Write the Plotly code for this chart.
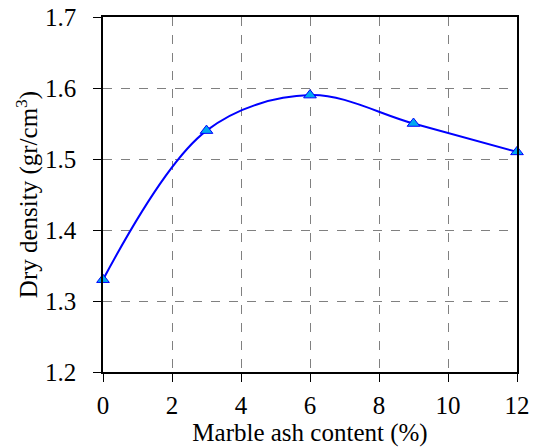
import plotly.graph_objects as go

marble_ash = [0, 3, 6, 9, 12]
dry_density = [1.33, 1.54, 1.59, 1.55, 1.51]
x_ticks = [0, 2, 4, 6, 8, 10, 12]
y_ticks = [1.2, 1.3, 1.4, 1.5, 1.6, 1.7]

fig = go.Figure()
fig.add_trace(go.Scatter(
    x=marble_ash, y=dry_density, mode="lines+markers",
    line=dict(color="#0000ff", width=2, shape="spline", smoothing=1.0),
    marker=dict(symbol="triangle-up", size=11, color="#00a8f0",
                line=dict(color="#0000ff", width=1)),
    showlegend=False, cliponaxis=False))

font = dict(family="Liberation Serif, Times New Roman, serif", size=25, color="black")
axis_common = dict(showline=True, linecolor="black", linewidth=1.5, mirror=True,
                   showgrid=True, gridcolor="#808080", griddash="dash", gridwidth=1,
                   ticks="outside", ticklen=8, tickcolor="black", zeroline=False,
                   tickfont=font, automargin=False)
fig.update_xaxes(range=[0, 12], tickvals=x_ticks, ticktext=[str(v) for v in x_ticks],
                 ticklabelstandoff=2,
                 title=dict(text="Marble ash content (%)", font=font, standoff=2), **axis_common)
fig.update_yaxes(range=[1.2, 1.7], tickvals=y_ticks, ticktext=[f"{v:.1f}" for v in y_ticks],
                 ticklabelstandoff=12,
                 title=dict(text="Dry density (gr/cm<sup>3</sup>)", font=font, standoff=0), **axis_common)
fig.update_layout(width=539, height=448, margin=dict(l=103, r=22, t=17, b=76),
                  plot_bgcolor="white", paper_bgcolor="white", font=font)
fig.write_html("out.html", config={"displayModeBar": False},
               post_script="document.body.style.margin='0';document.body.style.overflow='hidden';")
